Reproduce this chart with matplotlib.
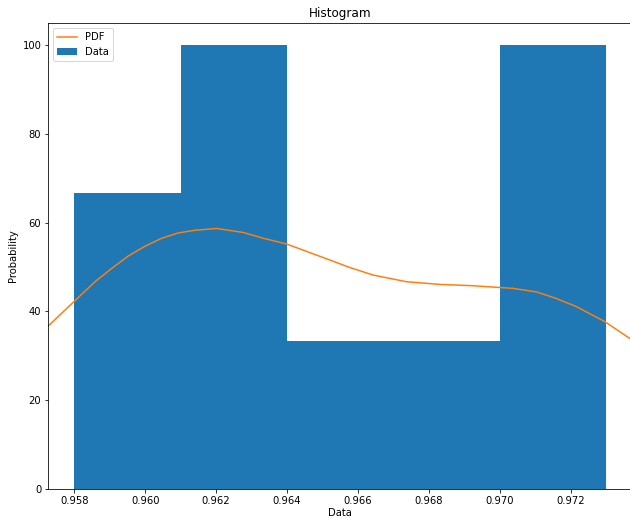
import numpy as np
import matplotlib
matplotlib.use("Agg")
import matplotlib.pyplot as plt

# Histogram bins (edges) and density heights
bin_edges = [0.958, 0.961, 0.964, 0.967, 0.970, 0.973]
bin_heights = [66.67, 100.0, 33.33, 33.33, 100.0]

# PDF curve
pdf_x = [0.957222, 0.958000, 0.958584, 0.959055, 0.959523, 0.959994, 0.960465,
         0.960933, 0.961404, 0.962016, 0.962766, 0.963330, 0.963990, 0.964836,
         0.965775, 0.966432, 0.967374, 0.968313, 0.969252, 0.970005, 0.970380,
         0.971040, 0.971604, 0.972160, 0.972966, 0.973672, 0.973730]
pdf_y = [36.4, 42.3, 46.7, 49.7, 52.5, 54.7, 56.5,
         57.7, 58.3, 58.7, 57.8, 56.5, 55.2, 52.7,
         49.9, 48.2, 46.7, 46.1, 45.8, 45.4, 45.2,
         44.4, 42.9, 41.1, 37.7, 33.9, 33.8]

fig = plt.figure(figsize=(630 / 72, 518 / 72), dpi=72)
ax = fig.add_axes([48.3 / 630, 1 - 489 / 518, (632 - 48.3) / 630, (489 - 23) / 518])

edges = np.array(bin_edges)
ax.bar(edges[:-1], bin_heights, width=np.diff(edges), align="edge",
       color="#1f77b4", linewidth=0, label="Data")
ax.plot(pdf_x, pdf_y, color="#ff7f0e", linewidth=1.5, label="PDF")

ax.set_xlim(0.957267, 0.97373)
ax.set_ylim(0, 105)
ax.set_xticks([0.958, 0.960, 0.962, 0.964, 0.966, 0.968, 0.970, 0.972])
ax.set_xticklabels(["0.958", "0.960", "0.962", "0.964", "0.966", "0.968", "0.970", "0.972"])
ax.set_yticks([0, 20, 40, 60, 80, 100])

ax.set_title("Histogram", fontsize=12)
ax.set_xlabel("Data", labelpad=2)
ax.set_ylabel("Probability")

handles, labels = ax.get_legend_handles_labels()
order = [labels.index("PDF"), labels.index("Data")]
ax.legend([handles[i] for i in order], [labels[i] for i in order], loc="upper left")

fig.savefig("out.png", dpi=72)
